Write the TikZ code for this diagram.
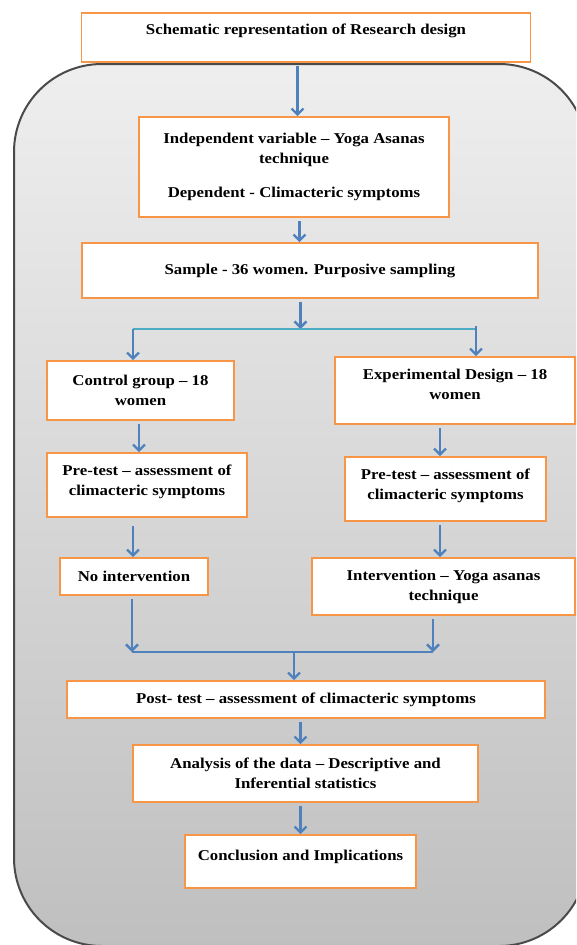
\documentclass[tikz,border=0pt]{standalone}
\usepackage{fontspec}
\setmainfont{Liberation Serif}[FakeStretch=1.12]
\usetikzlibrary{arrows.meta,positioning}
\definecolor{boxorange}{HTML}{F79646}
\definecolor{flowblue}{HTML}{4F81BD}
\definecolor{splitteal}{HTML}{4BACC6}
\definecolor{panelrim}{HTML}{4A4A4A}
\begin{document}
\begin{tikzpicture}[x=1pt,y=-1pt]
    \tikzset{
    stage/.style={
        draw=boxorange,
        line width=1.6pt,
        fill=white,
        align=center,
        inner sep=2pt,
        font=\fontsize{15}{20}\selectfont\bfseries
    },
    flow/.style={
        line width=2.4pt,
        shorten <=3pt,
        -{Straight Barb[length=6pt,width=12pt]},
        flowblue
    }
}
        \useasboundingbox (0,0) rectangle (576,945);
        \clip (0,0) rectangle (576,945);

        % grey panel behind the stages
        \draw[panelrim, line width=2pt, rounded corners=88pt, top color=gray!13, bottom color=gray!50] (14,64) rectangle (587,946);

        \node[stage, minimum width=449pt, minimum height=49pt, text depth=17pt] (Title) at (306,37.5) {Schematic representation of Research design};

        \node[stage, minimum width=310pt, minimum height=100pt] (Variables) at (294,167) {Independent variable -- Yoga Asanas\\ technique\\[14pt] Dependent - Climacteric symptoms};

        \node[stage, minimum width=456pt, minimum height=55pt] (Sample) at (310,270.5) {Sample - 36 women. Purposive sampling};

        \node[stage, minimum width=187pt, minimum height=59pt] (Control) at (140.5,390.5) {Control group -- 18\\ women};

        \node[stage, minimum width=240pt, minimum height=67pt, text depth=12pt] (Experimental) at (455,390.5) {Experimental Design -- 18\\ women};

        \node[stage, minimum width=200pt, minimum height=64pt, text depth=10pt] (PreControl) at (147,485) {Pre-test -- assessment of\\ climacteric symptoms};

        \node[stage, minimum width=201pt, minimum height=64pt, text depth=10pt] (PreExperimental) at (445.5,489) {Pre-test -- assessment of\\ climacteric symptoms};

        \node[stage, minimum width=148pt, minimum height=37pt] (NoIntervention) at (134,576.5) {No intervention};

        \node[stage, minimum width=263pt, minimum height=57pt] (Intervention) at (443.5,586.5) {Intervention -- Yoga asanas\\ technique};

        \node[stage, minimum width=478pt, minimum height=37pt] (PostTest) at (306,699.5) {Post- test -- assessment of climacteric symptoms};

        \node[stage, minimum width=345pt, minimum height=57pt] (Analysis) at (305.5,773.5) {Analysis of the data -- Descriptive and\\ Inferential statistics};

        \node[stage, minimum width=231pt, minimum height=53pt, text depth=12pt] (Conclusion) at (300.5,861.5) {Conclusion and Implications};

        % where the vertical connectors run
        \coordinate (spineA) at (297.5,0);
        \coordinate (spineB) at (299.5,0);
        \coordinate (Split) at (300.5,329);
        \coordinate (SplitLeft) at (133,329);
        \coordinate (SplitRight) at (476,329);
        \coordinate (leftLane) at (139,0);
        \coordinate (rightLane) at (440,0);
        \coordinate (lowLeft) at (133,0);
        \coordinate (JoinLeft) at (132,652);
        \coordinate (JoinRight) at (433,652);
        \coordinate (Join) at (294,652);
        \coordinate (spineC) at (300.5,0);

        \draw [flow] (Title.south -| spineA) -- (Variables.north -| spineA);
        \draw [flow] (Variables.south -| spineB) -- (Sample.north -| spineB);
        \draw [flow] (Sample.south -| Split) -- (Split);
        \draw [splitteal, line width=1.8pt] (SplitLeft) -- (SplitRight);
        \draw [flow, shorten <=0pt] (SplitLeft) -- (Control.north -| SplitLeft);
        \draw [flow, shorten <=0pt] ([yshift=3pt]SplitRight) -- (Experimental.north -| SplitRight);
        \draw [flow] (Control.south -| leftLane) -- (PreControl.north -| leftLane);
        \draw [flow] (Experimental.south -| rightLane) -- (PreExperimental.north -| rightLane);
        \draw [flow, shorten <=8pt] (PreControl.south -| lowLeft) -- (NoIntervention.north -| lowLeft);
        \draw [flow] (PreExperimental.south -| rightLane) -- (Intervention.north -| rightLane);
        \draw [flow] (NoIntervention.south -| JoinLeft) -- (JoinLeft);
        \draw [flow] (Intervention.south -| JoinRight) -- (JoinRight);
        \draw [flowblue, line width=1.8pt] (JoinLeft) -- (JoinRight);
        \draw [flow, shorten <=0pt] (Join) -- (PostTest.north -| Join);
        \draw [flow] (PostTest.south -| spineC) -- (Analysis.north -| spineC);
        \draw [flow] (Analysis.south -| spineC) -- (Conclusion.north -| spineC);
    \end{tikzpicture}
\end{document}
